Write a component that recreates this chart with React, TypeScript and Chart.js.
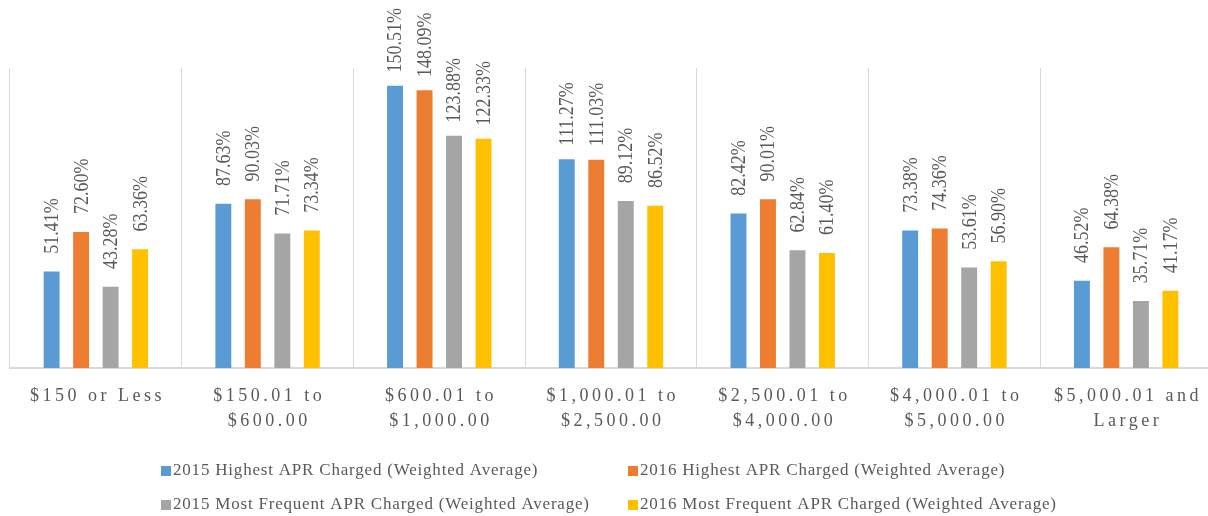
import React, { useEffect, useRef } from "react";
import { Chart, registerables } from "chart.js";

Chart.register(...registerables);

const categories: string[][] = [
  ["$150 or Less"],
  ["$150.01 to", "$600.00"],
  ["$600.01 to", "$1,000.00"],
  ["$1,000.01 to", "$2,500.00"],
  ["$2,500.01 to", "$4,000.00"],
  ["$4,000.01 to", "$5,000.00"],
  ["$5,000.01 and", "Larger"],
];

const seriesNames = [
  "2015 Highest APR Charged (Weighted Average)",
  "2016 Highest APR Charged (Weighted Average)",
  "2015 Most Frequent APR Charged (Weighted Average)",
  "2016 Most Frequent APR Charged (Weighted Average)",
];

const highest2015 = [51.41, 87.63, 150.51, 111.27, 82.42, 73.38, 46.52];
const highest2016 = [72.6, 90.03, 148.09, 111.03, 90.01, 74.36, 64.38];
const frequent2015 = [43.28, 71.71, 123.88, 89.12, 62.84, 53.61, 35.71];
const frequent2016 = [63.36, 73.34, 122.33, 86.52, 61.4, 56.9, 41.17];

const seriesColors = ["#5B9BD5", "#ED7D31", "#A5A5A5", "#FFC000"];

const FONT = "'Liberation Serif', 'Times New Roman', serif";
const TEXT_COLOR = "#595959";

const overlayPlugin = {
  id: "overlay",
  afterDatasetsDraw(chart: any) {
    const ctx: CanvasRenderingContext2D = chart.ctx;
    // data labels
    ctx.save();
    ctx.fillStyle = TEXT_COLOR;
    ctx.font = `18px ${FONT}`;
    ctx.textAlign = "center";
    ctx.textBaseline = "middle";
    chart.data.datasets.forEach((ds: any, di: number) => {
      const meta = chart.getDatasetMeta(di);
      meta.data.forEach((bar: any, i: number) => {
        const v = ds.data[i];
        const txt = v.toFixed(2) + "%";
        ctx.save();
        ctx.translate(bar.x + 1, bar.y - 45.5);
        ctx.rotate(-Math.PI / 2);
        ctx.scale(1, 1.15);
        ctx.fillText(txt, 0, 0);
        ctx.restore();
      });
    });
    ctx.restore();
  },
  afterDraw(chart: any) {
    const ctx: CanvasRenderingContext2D = chart.ctx;
    const xs = chart.scales.x;
    // x category labels
    ctx.save();
    ctx.fillStyle = TEXT_COLOR;
    ctx.font = `18px ${FONT}`;
    (ctx as any).letterSpacing = "3.5px";
    ctx.textAlign = "center";
    ctx.textBaseline = "middle";
    categories.forEach((lines, i) => {
      const cx = xs.getPixelForValue(i);
      lines.forEach((ln, li) => {
        ctx.fillText(ln, cx + 1.75, xs.top + 28 + li * 25);
      });
    });
    ctx.restore();

    // legend
    ctx.save();
    ctx.font = `17px ${FONT}`;
    (ctx as any).letterSpacing = "0.8px";
    ctx.textBaseline = "middle";
    ctx.textAlign = "left";
    const cols = [161, 628];
    const rows = [471, 505];
    const order = [0, 1, 2, 3];
    order.forEach((si, k) => {
      const x = cols[k % 2];
      const y = rows[Math.floor(k / 2)];
      ctx.fillStyle = seriesColors[si];
      ctx.fillRect(x, y - 5, 10, 10);
      ctx.fillStyle = TEXT_COLOR;
      ctx.fillText(seriesNames[si], x + 12, y);
    });
    ctx.restore();
  },
};

export default function App() {
  const ref = useRef<HTMLCanvasElement | null>(null);
  useEffect(() => {
    if (!ref.current) return;
    const seriesData = [highest2015, highest2016, frequent2015, frequent2016];
    const chart = new Chart(ref.current, {
      type: "bar",
      data: {
        labels: categories.map((c) => c.join(" ")),
        datasets: seriesData.map((d, i) => ({
          label: seriesNames[i],
          data: d,
          backgroundColor: seriesColors[i],
          borderWidth: 0,
          barPercentage: 0.54,
          categoryPercentage: 0.687,
        })),
      },
      options: {
        animation: false,
        responsive: false,
        maintainAspectRatio: false,
        layout: { padding: { left: 10, right: 4, top: 68, bottom: 0 } },
        plugins: {
          legend: { display: false },
          tooltip: { enabled: false },
          title: { display: false },
        },
        scales: {
          x: {
            grid: {
              display: true,
              offset: true,
              color: "#D9D9D9",
              lineWidth: 1,
              drawTicks: false,
            },
            border: { display: true, color: "#D9D9D9", width: 2 },
            ticks: { display: false },
            afterFit: (s: any) => {
              s.height = 148;
            },
          },
          y: {
            display: false,
            min: 0,
            max: 160,
          },
        },
      },
      plugins: [overlayPlugin],
    });
    return () => chart.destroy();
  }, []);
  return (
    <div
      style={{
        position: "absolute",
        left: 0,
        top: 0,
        width: 1208,
        height: 516,
        overflow: "hidden",
        background: "#fff",
      }}
    >
      <canvas ref={ref} width={1216} height={516} style={{ display: "block" }} />
    </div>
  );
}
